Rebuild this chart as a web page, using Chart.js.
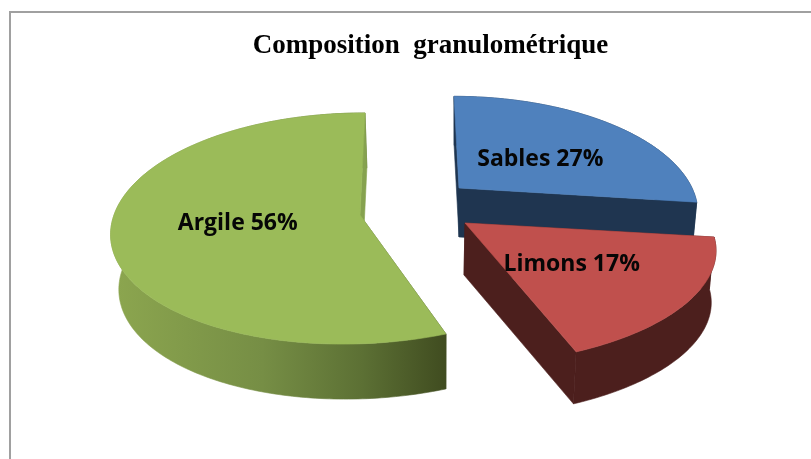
<!DOCTYPE html>
<html>
<head>
<meta charset="utf-8">
<style>html,body{margin:0;padding:0;background:#fff}canvas{display:block}</style>
<script src="https://cdn.jsdelivr.net/npm/chart.js@4"></script>
</head>
<body>
<canvas id="c" width="811" height="459"></canvas>
<script>
const categories = ['Sables', 'Limons', 'Argile'];
const values = [27, 17, 56];
const chartTitle = 'Composition  granulométrique';
const topColors = ['#4f81bd', '#c0504d', '#9bbb59'];
const wallColors = ['#1f3550', '#4c1f1d', null];
const innerWallColors = ['#1f3550', '#4c1f1d', '#86a24f'];
// perspective of each exploded slice
const views = [
  {cx:459, cy:188, R:233, a:110,   k:.2,   s0:5,     s1:0,    depth:49, xs:.98,  dxb:0},
  {cx:465, cy:223, R:243, a:108.7, k:.232, s0:8,     s1:-12,  depth:52, xs:.985, dxb:-1},
  {cx:360, cy:215, R:246, a:114,   k:.117, s0:-11.1, s1:-6.1, depth:55, xs:.975, dxb:2}
];
const labelShiftX = [1, 2, 1];
const labelShiftY = [6, 6, -2];
const drawOrder = [0, 1, 2];

function project(view, theta, r) {
  const u = Math.sin(theta) * r, v = -Math.cos(theta) * r, d = 1 - view.k * v;
  return {x: view.cx + view.R * u / d + view.s0 * v + view.s1 * v * v,
          y: view.cy + view.a * v / d};
}
function lower(view, p) {
  return {x: view.cx + (p.x - view.cx) * view.xs + view.dxb, y: p.y + view.depth};
}
function fillPoly(ctx, pts, fill) {
  ctx.beginPath();
  pts.forEach((p, i) => i ? ctx.lineTo(p.x, p.y) : ctx.moveTo(p.x, p.y));
  ctx.closePath();
  ctx.fillStyle = fill;
  ctx.fill();
  ctx.strokeStyle = fill;
  ctx.lineWidth = .6;
  ctx.stroke();
}

const pie3d = {
  id: 'pie3d',
  beforeDraw(chart) {
    const ctx = chart.ctx;
    ctx.save();
    ctx.strokeStyle = '#a0a0a0';
    ctx.lineWidth = 2;
    ctx.beginPath();
    ctx.moveTo(10, 459); ctx.lineTo(10, 12); ctx.lineTo(811, 12);
    ctx.stroke();
    ctx.restore();
  },
  afterDatasetsDraw(chart) {
    const ctx = chart.ctx, arcs = chart.getDatasetMeta(0).data;
    ctx.save();
    const grad = ctx.createLinearGradient(112, 0, 446, 0);
    grad.addColorStop(0, '#8ca64f');
    grad.addColorStop(.45, '#768e45');
    grad.addColorStop(.75, '#5c7034');
    grad.addColorStop(1, '#404c20');
    drawOrder.forEach(i => {
      const view = views[i], el = arcs[i];
      const start = el.startAngle + Math.PI / 2, end = el.endAngle + Math.PI / 2;
      const n = Math.ceil((end - start) / (Math.PI / 180));
      const rim = [];
      for (let j = 0; j <= n; j++) rim.push(project(view, start + (end - start) * j / n, 1));
      const apex = {x: view.cx, y: view.cy};
      const wall = wallColors[i] || grad;
      const low = p => lower(view, p);
      fillPoly(ctx, [apex, rim[0], low(rim[0]), low(apex)], wall);
      fillPoly(ctx, rim.concat(rim.map(low).reverse()), wall);
      fillPoly(ctx, [apex, rim[n], low(rim[n]), low(apex)], innerWallColors[i]);
      fillPoly(ctx, [apex].concat(rim), topColors[i]);
    });
    ctx.font = 'bold 23px "Open Sans"';
    ctx.fillStyle = '#060606';
    ctx.textAlign = 'center';
    ctx.textBaseline = 'middle';
    arcs.forEach((el, i) => {
      const mid = (el.startAngle + el.endAngle) / 2 + Math.PI / 2;
      const p = project(views[i], mid, .5);
      ctx.fillText(categories[i] + ' ' + values[i] + '%', p.x + labelShiftX[i], p.y + labelShiftY[i]);
    });
    ctx.restore();
  }
};

new Chart(document.getElementById('c'), {
  type: 'pie',
  data: {
    labels: categories,
    datasets: [{data: values, backgroundColor: 'rgba(0,0,0,0)', borderWidth: 0}]
  },
  options: {
    responsive: false,
    animation: false,
    layout: {padding: {left: 50, top: 12}},
    plugins: {
      legend: {display: false},
      tooltip: {enabled: false},
      title: {
        display: true,
        text: chartTitle,
        color: '#000',
        font: {family: '"Liberation Serif"', size: 27, weight: 'bold'},
        padding: {top: 18, bottom: 10}
      }
    }
  },
  plugins: [pie3d]
});
</script>
</body>
</html>
